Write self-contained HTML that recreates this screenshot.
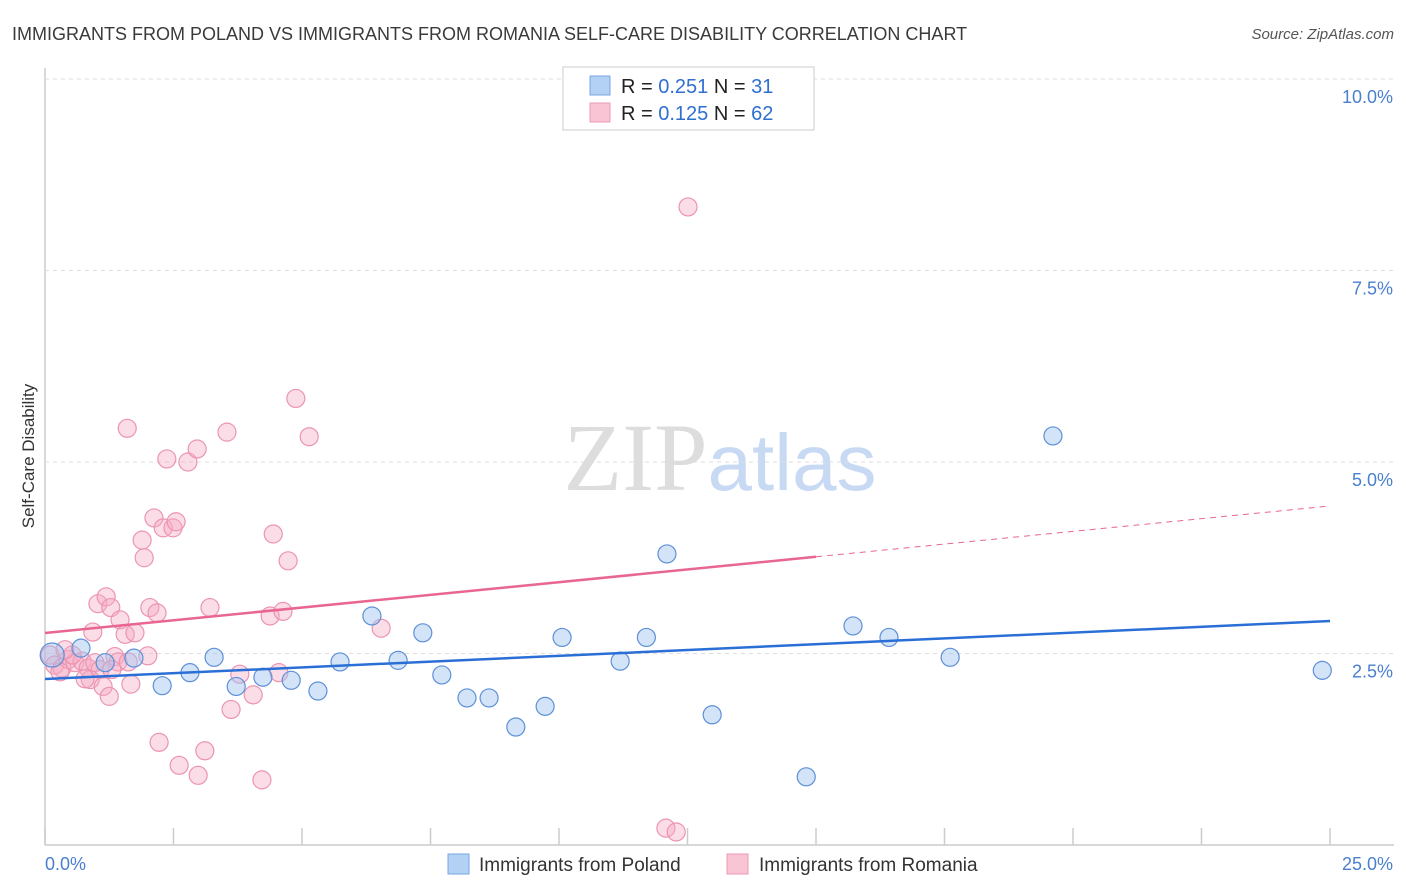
<!DOCTYPE html>
<html><head><meta charset="utf-8"><style>
body{margin:0;background:#fff;font-family:"Liberation Sans",sans-serif;}
svg{display:block}
</style></head><body>
<svg id="chart" width="1406" height="892" xmlns="http://www.w3.org/2000/svg">
<text x="12" y="40" font-size="18" fill="#3a3a3a">IMMIGRANTS FROM POLAND VS IMMIGRANTS FROM ROMANIA SELF-CARE DISABILITY CORRELATION CHART</text>
<text x="1394" y="39" font-size="15" fill="#555" text-anchor="end" font-style="italic">Source: ZipAtlas.com</text>
<text x="720" y="490" font-size="96" text-anchor="middle" fill="#ddd" font-family="Liberation Serif,serif">ZIP<tspan fill="#c8daf3" font-family="Liberation Sans,sans-serif" font-size="80">atlas</tspan></text>
<text transform="translate(34,456) rotate(-90)" font-size="17" fill="#333" text-anchor="middle">Self-Care Disability</text>
<g id="axes"></g>
<g id="marks"></g>
<g>
<rect x="563" y="67" width="251" height="63" fill="#fff" stroke="#ccc"/>
<rect x="590" y="76" width="20" height="19" fill="#b3d0f5" stroke="#7aa6e0"/>
<rect x="590" y="103" width="20" height="19" fill="#f9c4d4" stroke="#eb9ab3"/>
<text x="621" y="93" font-size="20" fill="#222">R = <tspan fill="#2f6fd0">0.251</tspan>   N = <tspan fill="#2f6fd0"> 31</tspan></text>
<text x="621" y="120" font-size="20" fill="#222">R = <tspan fill="#2f6fd0">0.125</tspan>   N = <tspan fill="#2f6fd0">62</tspan></text>
</g>
<g>
<rect x="448" y="854" width="21" height="20" fill="#b3d0f5" stroke="#7aa6e0"/>
<text x="479" y="871" font-size="19" fill="#333">Immigrants from Poland</text>
<rect x="727" y="854" width="21" height="20" fill="#f9c4d4" stroke="#eb9ab3"/>
<text x="759" y="871" font-size="19" fill="#333">Immigrants from Romania</text>
</g>
</svg>
<script>
const yTicks=[2.5,5.0,7.5,10.0];
const xTickVals=[0,2.5,5,7.5,10,12.5,15,17.5,20,22.5,25];
const polandX=[0.14,0.70,1.17,1.73,2.28,2.82,3.29,3.72,4.24,4.79,5.31,5.74,6.36,6.87,7.35,7.72,8.21,8.64,9.16,9.73,10.06,11.19,11.70,12.10,12.98,14.81,15.72,16.42,17.61,19.61,24.85];
const polandY=[2.48,2.57,2.38,2.44,2.08,2.25,2.45,2.07,2.19,2.15,2.01,2.39,2.99,2.41,2.77,2.22,1.92,1.92,1.54,1.81,2.71,2.40,2.71,3.80,1.70,0.89,2.86,2.71,2.45,5.34,2.28];
const romaniaX=[0.10,0.19,0.33,0.45,0.58,0.72,0.84,0.97,1.07,0.88,1.13,1.25,1.36,1.42,1.67,0.93,1.03,1.19,1.28,1.46,1.56,1.75,1.60,1.89,1.93,2.04,2.12,2.18,2.30,2.37,2.49,2.55,2.00,2.22,2.61,2.78,2.96,2.98,3.11,3.21,3.54,3.62,3.79,4.05,4.22,4.38,4.44,4.55,4.63,4.73,4.88,5.14,6.54,12.08,12.28,12.51,0.53,0.29,0.78,1.30,1.62,0.39];
const romaniaY=[2.48,2.35,2.31,2.42,2.38,2.40,2.31,2.38,2.29,2.16,2.07,1.94,2.46,2.39,2.10,2.78,3.15,3.24,3.10,2.94,2.75,2.77,5.44,3.98,3.75,3.10,4.27,3.03,4.14,5.04,4.14,4.22,2.47,1.34,1.04,5.00,5.17,0.91,1.23,3.10,5.39,1.77,2.23,1.96,0.85,2.99,4.06,2.25,3.05,3.71,5.83,5.33,2.83,0.22,0.17,8.33,2.48,2.26,2.17,2.29,2.39,2.55];
const polandTrend=[2.167,2.924];
const romaniaTrend=[2.768,4.426];
const romaniaSolidEnd=15.0;
const NS="http://www.w3.org/2000/svg";
const X0=45,X1=1330,Y0=845,YTOP=79;
const sx=v=>X0+(v/25)*(X1-X0);
const sy=v=>Y0-(v/10)*(Y0-YTOP);
function mk(tag,attrs,parent){const e=document.createElementNS(NS,tag);for(const k in attrs)e.setAttribute(k,attrs[k]);parent.appendChild(e);return e;}
const axes=document.getElementById('axes'),marks=document.getElementById('marks');
let e=mk('line',{x1:X0,y1:68,x2:X0,y2:Y0,stroke:'#ccc','stroke-width':1.5},axes);

e=mk('line',{x1:X0,y1:Y0,x2:1394,y2:Y0,stroke:'#ccc','stroke-width':1.5},axes);

yTicks.forEach(t=>{
 const g=mk('line',{x1:X0,y1:sy(t),x2:1394,y2:sy(t),stroke:'#ddd','stroke-dasharray':'4,4'},axes);
 
 const l=mk('text',{x:1393,y:sy(t)+24,'font-size':18,fill:'#4a7fd0','text-anchor':'end'},axes);
 l.textContent=t.toFixed(1)+'%';
 
});
xTickVals.forEach(t=>{
 const k=mk('line',{x1:sx(t),y1:828,x2:sx(t),y2:Y0,stroke:'#ccc','stroke-width':1.5},axes);
 
});
e=mk('text',{x:45,y:870,'font-size':18,fill:'#4a7fd0'},axes);e.textContent='0.0%';

e=mk('text',{x:1393,y:870,'font-size':18,fill:'#4a7fd0','text-anchor':'end'},axes);e.textContent='25.0%';

romaniaX.forEach((x,i)=>{
 const c=mk('circle',{cx:sx(x),cy:sy(romaniaY[i]),r:9,fill:'rgba(246,170,196,0.4)',stroke:'#ec94b1','stroke-width':1.2},marks);
 
});
polandX.forEach((x,i)=>{
 const c=mk('circle',{cx:sx(x),cy:sy(polandY[i]),r:i==0?12:9,fill:'rgba(160,196,240,0.45)',stroke:'#5e90d8','stroke-width':1.2},marks);
 
});
const ry=v=>romaniaTrend[0]+(romaniaTrend[1]-romaniaTrend[0])*v/25;
e=mk('line',{x1:sx(0),y1:sy(polandTrend[0]),x2:sx(25),y2:sy(polandTrend[1]),stroke:'#2a6fd6','stroke-width':2.5},marks);

e=mk('line',{x1:sx(0),y1:sy(ry(0)),x2:sx(romaniaSolidEnd),y2:sy(ry(romaniaSolidEnd)),stroke:'#e8668f','stroke-width':2.5},marks);

e=mk('line',{x1:sx(romaniaSolidEnd),y1:sy(ry(romaniaSolidEnd)),x2:sx(25),y2:sy(ry(25)),stroke:'#e8668f','stroke-width':1,'stroke-dasharray':'6,5'},marks);

</script>
</body></html>
